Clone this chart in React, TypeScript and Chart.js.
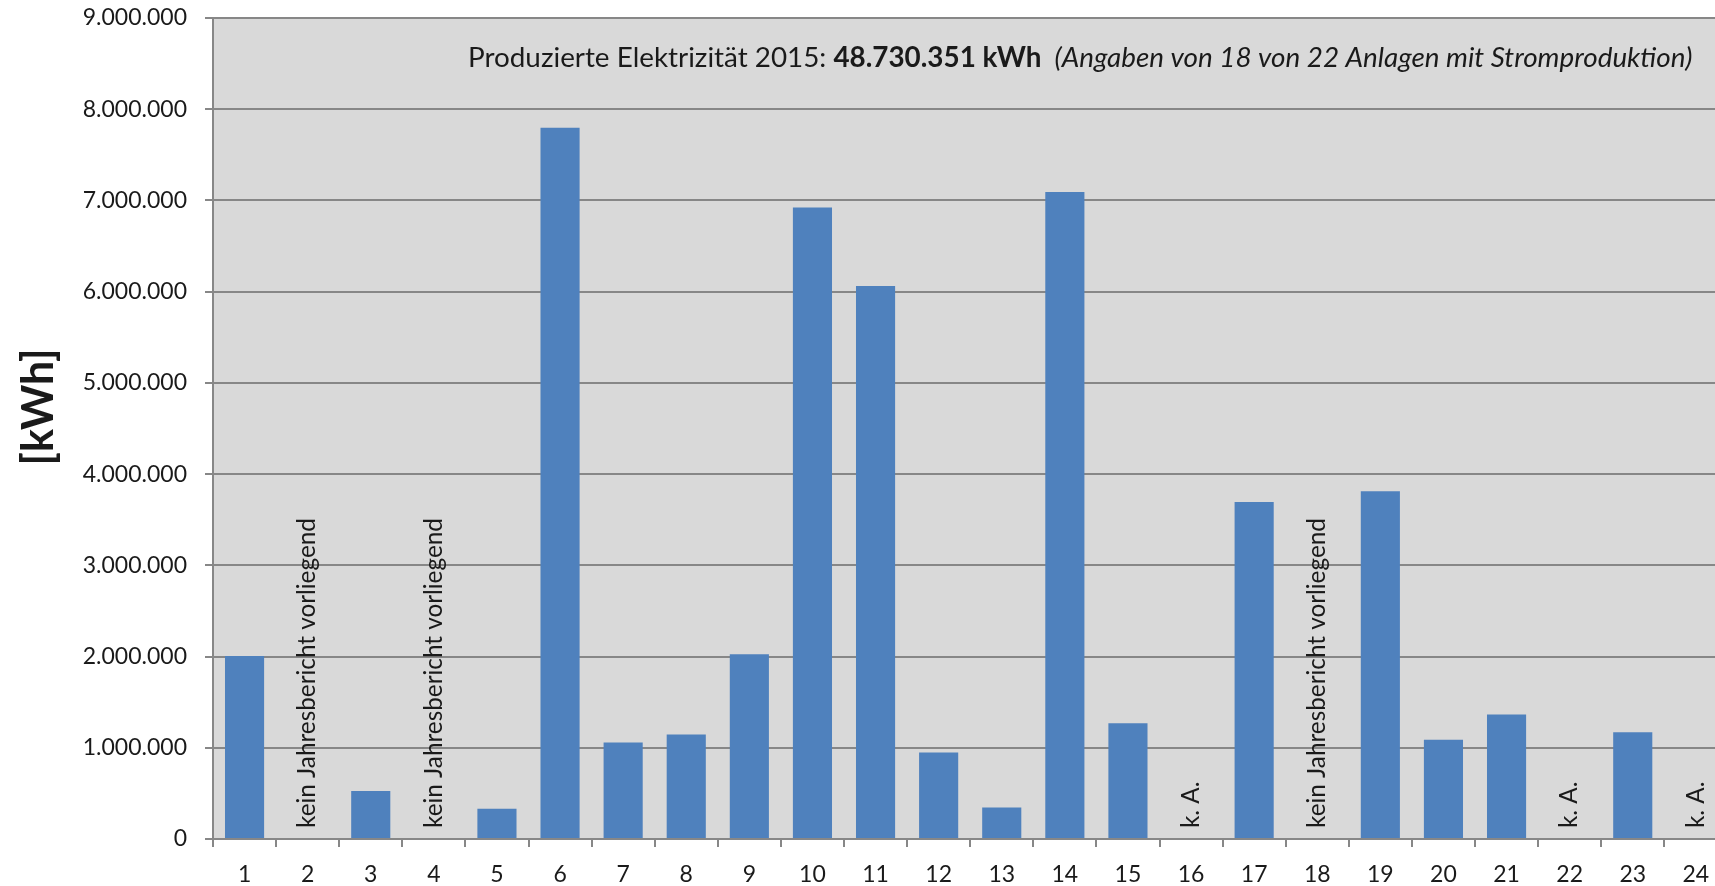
import React, { useEffect, useRef } from 'react';
import { Chart, registerables } from 'chart.js';

Chart.register(...registerables);

const categories = ['1', '2', '3', '4', '5', '6', '7', '8', '9', '10', '11', '12', '13', '14', '15', '16', '17', '18', '19', '20', '21', '22', '23', '24'];

const production: (number | null)[] = [
  2007000, null, 527000, null, 331000, 7798000, 1058000, 1145000, 2025000, 6923000, 6062000, 947000,
  345000, 7092000, 1269000, null, 3695000, null, 3813000, 1087000, 1364000, null, 1171000, null,
];

const NO_REPORT = 'kein Jahresbericht vorliegend';
const NA = 'k. A.';
const notes = [
  '', NO_REPORT, '', NO_REPORT, '', '', '', '', '', '', '', '',
  '', '', '', NA, '', NO_REPORT, '', '', '', NA, '', NA,
];

const yMin = 0;
const yMax = 9000000;
const yStep = 1000000;

const titleNormal = 'Produzierte Elektrizität 2015: ';
const titleBold = '48.730.351 kWh';
const titleItalic = '  (Angaben von 18 von 22 Anlagen mit Stromproduktion)';
const yAxisTitle = '[kWh]';

const FONT = 'Lato, "Open Sans", sans-serif';
const TEXT = '#1a1a1a';
const GRID = '#878787';

const CANVAS_W = 1740;
const CANVAS_H = 886;

function fmt(v: number): string {
  return String(Math.round(v)).replace(/\B(?=(\d{3})+(?!\d))/g, '.');
}

const decorPlugin = {
  id: 'decor',
  beforeDraw(chart: any) {
    const { ctx, chartArea: a } = chart;
    ctx.save();
    ctx.fillStyle = '#d9d9d9';
    ctx.fillRect(a.left, a.top, a.right - a.left, a.bottom - a.top);
    ctx.restore();
  },
  afterDatasetsDraw(chart: any) {
    const { ctx } = chart;
    const xs = chart.scales.x;
    const ys = chart.scales.y;
    ctx.save();
    ctx.fillStyle = TEXT;

    // rotated notes
    ctx.font = `20px ${FONT}`;
    const w0 = ctx.measureText(NO_REPORT).width;
    const noteSize = 20 * 310 / w0;
    ctx.font = `${noteSize}px ${FONT}`;
    const base = ys.getPixelForValue(0) - 11;
    notes.forEach((n, i) => {
      if (!n) return;
      ctx.save();
      ctx.translate(xs.getPixelForValue(i), base);
      ctx.rotate(-Math.PI / 2);
      ctx.textAlign = 'left';
      ctx.textBaseline = 'middle';
      ctx.fillText(n, 0, 0);
      ctx.restore();
    });

    // title line
    const sz = 24;
    const fN = (s: number) => `${s}px ${FONT}`;
    const fB = (s: number) => `bold ${s}px ${FONT}`;
    const fI = (s: number) => `italic ${s}px ${FONT}`;
    const measure = (s: number) => {
      ctx.font = fN(s); const a = ctx.measureText(titleNormal).width;
      ctx.font = fB(s); const b = ctx.measureText(titleBold).width;
      ctx.font = fI(s); const c = ctx.measureText(titleItalic).width;
      return [a, b, c];
    };
    const m0 = measure(sz);
    const s1 = sz * 1225 / (m0[0] + m0[1] + m0[2]);
    const m1 = measure(s1);
    let x = 468;
    const by = 67;
    ctx.textAlign = 'left';
    ctx.textBaseline = 'alphabetic';
    ctx.font = fN(s1); ctx.fillText(titleNormal, x, by); x += m1[0];
    ctx.font = fB(s1); ctx.fillText(titleBold, x, by); x += m1[1];
    ctx.font = fI(s1); ctx.fillText(titleItalic, x, by);

    // y axis title
    ctx.font = `bold 40px ${FONT}`;
    const wt = ctx.measureText(yAxisTitle).width;
    const ts = 40 * 117 / wt;
    ctx.font = `bold ${ts}px ${FONT}`;
    ctx.save();
    ctx.translate(39, 407);
    ctx.rotate(-Math.PI / 2);
    ctx.textAlign = 'center';
    ctx.textBaseline = 'middle';
    ctx.fillText(yAxisTitle, 0, 0);
    ctx.restore();

    ctx.restore();
  },
};

export default function App() {
  const ref = useRef<HTMLCanvasElement | null>(null);
  useEffect(() => {
    if (!ref.current) return;
    const chart = new Chart(ref.current, {
      type: 'bar',
      data: {
        labels: categories,
        datasets: [
          {
            data: production as any,
            backgroundColor: '#4f81bd',
            borderWidth: 0,
            categoryPercentage: 1,
            barPercentage: 0.62,
          },
        ],
      },
      options: {
        animation: false,
        responsive: false,
        devicePixelRatio: 1,
        layout: { padding: { top: 18, right: CANVAS_W - 1727.4, left: 0, bottom: 0 } },
        plugins: { legend: { display: false }, tooltip: { enabled: false }, title: { display: false } },
        scales: {
          x: {
            afterFit(scale: any) { scale.height = CANVAS_H - 839; scale.paddingLeft = 0; scale.paddingRight = 0; },
            grid: { display: true, drawOnChartArea: false, drawTicks: true, tickLength: 8, offset: true, color: GRID, lineWidth: 2 },
            border: { display: true, color: GRID, width: 2 },
            ticks: { color: TEXT, font: { family: FONT, size: 23 }, padding: 14, maxRotation: 0, autoSkip: false },
          },
          y: {
            min: yMin,
            max: yMax,
            afterFit(scale: any) { scale.width = 213; scale.paddingTop = 0; scale.paddingBottom = 0; },
            grid: { color: GRID, lineWidth: 2, tickLength: 8, drawTicks: true },
            border: { display: true, color: GRID, width: 2 },
            ticks: { stepSize: yStep, color: TEXT, font: { family: FONT, size: 23 }, padding: 18, callback: (v: any) => fmt(Number(v)) },
          },
        },
      },
      plugins: [decorPlugin],
    });
    return () => chart.destroy();
  }, []);
  return (
    <div style={{ position: 'fixed', left: 0, top: 0, width: 1715, height: 886, overflow: 'hidden', background: '#fff' }}>
      <canvas ref={ref} width={CANVAS_W} height={CANVAS_H} style={{ display: 'block', width: CANVAS_W, height: CANVAS_H }} />
    </div>
  );
}
